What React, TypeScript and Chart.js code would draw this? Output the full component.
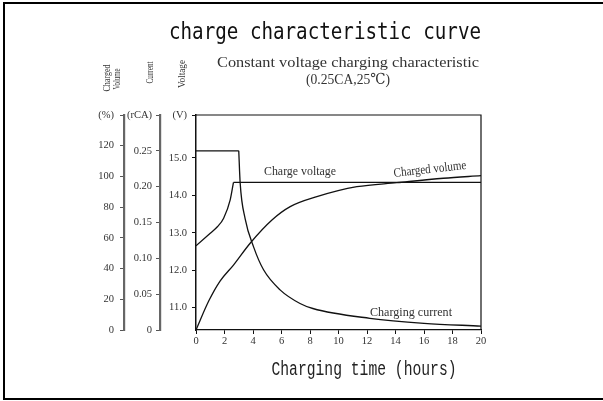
import { useEffect, useRef } from "react";
import { Chart, registerables } from "chart.js";

Chart.register(...registerables);

// ---- data ----
const xTicks = [0, 2, 4, 6, 8, 10, 12, 14, 16, 18, 20];
const voltageTicks = [11, 12, 13, 14, 15];
const currentTicks = [0, 0.05, 0.1, 0.15, 0.2, 0.25];
const volumeTicks = [0, 20, 40, 60, 80, 100, 120];
const voltageRange = [10.4, 16.15];
const currentRange = [0, 0.3];
const volumeRange = [0, 140];
const voltageUnit = "(V)";
const currentUnit = "(rCA)";
const volumeUnit = "(%)";

// Charge voltage (V) vs hours; rising part ends at index 5, then plateau
const voltageHours = [0, 1.0, 1.5, 1.94, 2.4, 2.63, 20];
const voltageValues = [12.65, 12.99, 13.16, 13.39, 13.88, 14.35, 14.35];
const voltageBreak = 5;

// Charging current (rCA) vs hours; constant part ends at index 1
const currentHours = [0, 3.0, 3.1, 3.45, 4.04, 4.74, 5.9, 7.3, 8.2, 12.2, 16.0, 20];
const currentValues = [0.25, 0.25, 0.205, 0.155, 0.116, 0.084, 0.056, 0.037, 0.03, 0.0163, 0.0093, 0.0055];
const currentBreak = 1;

// Charged volume (%) vs hours
const volumeHours = [0, 0.9, 1.7, 2.63, 3.8, 5.33, 6.61, 8.48, 11.29, 14.09, 17.36, 20];
const volumeValues = [0, 19, 32, 42.3, 56.5, 71.6, 80.3, 86.8, 93.3, 95.9, 98.8, 100.5];

const titleText = "charge characteristic curve";
const subtitle1 = "Constant voltage charging characteristic";
const subtitle2 = "(0.25CA,25℃)";
const xTitle = "Charging time (hours)";
const volumeTitle = ["Charged", "Volume"];
const currentTitle = "Current";
const voltageTitle = "Voltage";
const voltageLabel = "Charge voltage";
const volumeLabel = "Charged volume";
const currentLabel = "Charging current";

function pts(h: number[], v: number[], from: number, to: number) {
  const out: { x: number; y: number }[] = [];
  for (let i = from; i <= to; i++) out.push({ x: h[i], y: v[i] });
  return out;
}

function fitText(
  ctx: CanvasRenderingContext2D,
  text: string,
  x: number,
  y: number,
  font: string,
  width: number,
  angle = 0,
  color = "#333"
) {
  ctx.save();
  ctx.font = font;
  ctx.fillStyle = color;
  ctx.textAlign = "center";
  ctx.textBaseline = "middle";
  ctx.translate(x, y);
  ctx.rotate(angle);
  const w = ctx.measureText(text).width;
  ctx.scale(width / w, 1);
  ctx.fillText(text, 0, 0);
  ctx.restore();
}

const SERIF = "'Liberation Serif', 'DejaVu Serif', serif";

const decorPlugin = {
  id: "decor",
  afterDraw(chart: any) {
    const ctx: CanvasRenderingContext2D = chart.ctx;
    const a = chart.chartArea;
    ctx.save();
    // outer frame
    ctx.strokeStyle = "#000";
    ctx.lineWidth = 2;
    ctx.strokeRect(4, 3, 700, 396);
    // plot top & right border
    ctx.lineWidth = 1.2;
    ctx.strokeStyle = "#111";
    ctx.beginPath();
    ctx.moveTo(a.left, a.top);
    ctx.lineTo(a.right, a.top);
    ctx.lineTo(a.right, a.bottom);
    ctx.stroke();
    ctx.restore();

    fitText(ctx, titleText, 325, 33, "23px 'DejaVu Sans Mono', monospace", 312, 0, "#111");
    fitText(ctx, subtitle1, 348, 63, `15.5px ${SERIF}`, 262);
    fitText(ctx, subtitle2, 348, 80, `15.5px ${SERIF}`, 84);

    const r = -Math.PI / 2;
    fitText(ctx, volumeTitle[0], 107, 78, `10px ${SERIF}`, 27, r);
    fitText(ctx, volumeTitle[1], 117.5, 79, `10px ${SERIF}`, 21, r);
    fitText(ctx, currentTitle, 150, 72.5, `11px ${SERIF}`, 22, r);
    fitText(ctx, voltageTitle, 182.5, 74, `11px ${SERIF}`, 28, r);

    fitText(ctx, voltageLabel, 300, 172, `13px ${SERIF}`, 72);
    fitText(ctx, volumeLabel, 430, 169.5, `13px ${SERIF}`, 73, -0.11);
    fitText(ctx, currentLabel, 411, 313, `13px ${SERIF}`, 82);

    fitText(ctx, xTitle, 364, 370, "20px 'Liberation Mono', monospace", 185, 0, "#222");
  },
};

const LINE = "#111";

export default function App() {
  const ref = useRef<HTMLCanvasElement | null>(null);

  useEffect(() => {
    if (!ref.current) return;
    const tickFont = { family: SERIF, size: 10.5 };
    const mkTicks = (vals: number[], max: number) => (scale: any) => {
      scale.ticks = [...vals, max].map((v) => ({ value: v }));
    };
    const chart = new Chart(ref.current, {
      type: "line",
      data: {
        datasets: [
          {
            data: pts(voltageHours, voltageValues, 0, voltageBreak),
            yAxisID: "yV",
            borderColor: LINE,
            borderWidth: 1.3,
            pointRadius: 0,
            cubicInterpolationMode: "monotone",
          },
          {
            data: pts(voltageHours, voltageValues, voltageBreak, voltageHours.length - 1),
            yAxisID: "yV",
            borderColor: LINE,
            borderWidth: 1.3,
            pointRadius: 0,
            tension: 0,
          },
          {
            data: pts(currentHours, currentValues, 0, currentBreak),
            yAxisID: "yI",
            borderColor: LINE,
            borderWidth: 1.3,
            pointRadius: 0,
            tension: 0,
          },
          {
            data: pts(currentHours, currentValues, currentBreak, currentHours.length - 1),
            yAxisID: "yI",
            borderColor: LINE,
            borderWidth: 1.3,
            pointRadius: 0,
            cubicInterpolationMode: "monotone",
          },
          {
            data: pts(volumeHours, volumeValues, 0, volumeHours.length - 1),
            yAxisID: "yP",
            borderColor: LINE,
            borderWidth: 1.3,
            pointRadius: 0,
            cubicInterpolationMode: "monotone",
          },
        ],
      },
      options: {
        animation: false,
        responsive: true,
        maintainAspectRatio: false,
        layout: { padding: { left: 80, top: 115, right: 122, bottom: 51 } },
        plugins: { legend: { display: false }, tooltip: { enabled: false }, title: { display: false } },
        scales: {
          x: {
            type: "linear",
            min: 0,
            max: 20,
            afterBuildTicks: (s: any) => {
              s.ticks = xTicks.map((v) => ({ value: v }));
            },
            afterFit: (s: any) => {
              s.height = 20;
            },
            ticks: { font: tickFont, color: "#333", padding: 1, maxRotation: 0, autoSkip: false },
            grid: { drawOnChartArea: false, tickLength: 4, color: "#111", lineWidth: 1 },
            border: { display: true, color: "#111", width: 1.3 },
          },
          yV: {
            type: "linear",
            position: "left",
            weight: 0,
            min: voltageRange[0],
            max: voltageRange[1],
            afterBuildTicks: mkTicks(voltageTicks, voltageRange[1]),
            afterFit: (s: any) => {
              s.width = 36;
            },
            ticks: {
              font: tickFont,
              color: "#333",
              padding: 5,
              autoSkip: false,
              callback: (v: any) => (v === voltageRange[1] ? voltageUnit : Number(v).toFixed(1)),
            },
            grid: { drawOnChartArea: false, tickLength: 4, color: "#111", lineWidth: 1 },
            border: { display: true, color: "#111", width: 1.5 },
          },
          yI: {
            type: "linear",
            position: "left",
            weight: 1,
            min: currentRange[0],
            max: currentRange[1],
            afterBuildTicks: mkTicks(currentTicks, currentRange[1]),
            afterFit: (s: any) => {
              s.width = 36;
            },
            ticks: {
              font: tickFont,
              color: "#333",
              padding: 4,
              autoSkip: false,
              callback: (v: any) =>
                v === currentRange[1] ? currentUnit : v === 0 ? "0" : Number(v).toFixed(2),
            },
            grid: { drawOnChartArea: false, tickLength: 4, color: "#555", lineWidth: 1 },
            border: { display: true, color: "#666", width: 2.2 },
          },
          yP: {
            type: "linear",
            position: "left",
            weight: 2,
            min: volumeRange[0],
            max: volumeRange[1],
            afterBuildTicks: mkTicks(volumeTicks, volumeRange[1]),
            afterFit: (s: any) => {
              s.width = 44;
            },
            ticks: {
              font: tickFont,
              color: "#333",
              padding: 6,
              autoSkip: false,
              callback: (v: any) => (v === volumeRange[1] ? volumeUnit : String(v)),
            },
            grid: { drawOnChartArea: false, tickLength: 4, color: "#555", lineWidth: 1 },
            border: { display: true, color: "#666", width: 2.2 },
          },
        },
      } as any,
      plugins: [decorPlugin],
    });
    return () => chart.destroy();
  }, []);

  return (
    <div style={{ position: "absolute", left: 0, top: 0, width: 603, height: 401, background: "#fff" }}>
      <canvas ref={ref} />
    </div>
  );
}
